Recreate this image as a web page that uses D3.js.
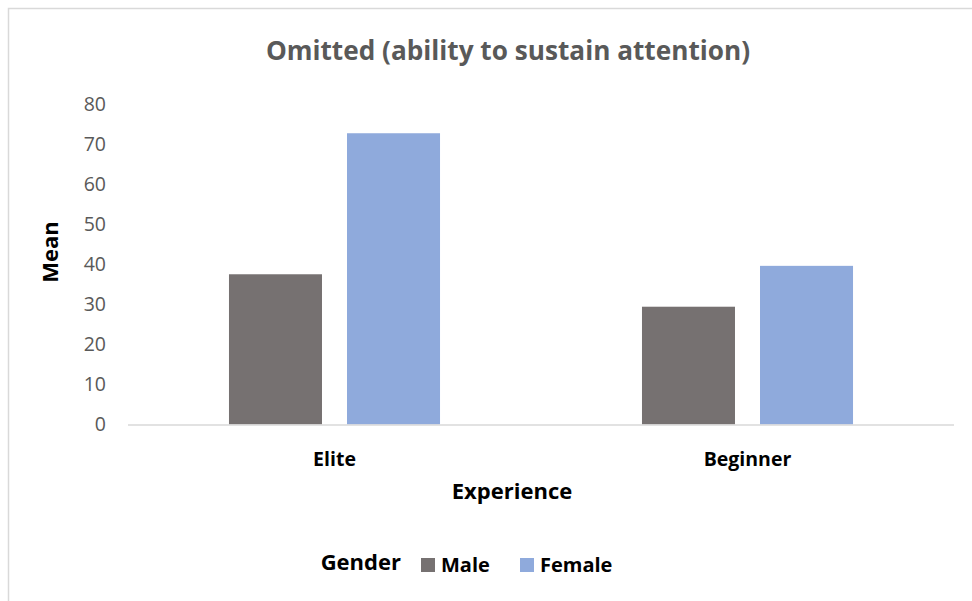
<!DOCTYPE html>
<html>
<head>
<meta charset="utf-8">
<script src="https://cdn.jsdelivr.net/npm/d3@7"></script>
<style>
  html, body { margin: 0; padding: 0; background: #fff; }
  svg { display: block; }
</style>
</head>
<body>
<svg id="chart" width="972" height="601"></svg>
<script>
const categories = ["Elite", "Beginner"];
const seriesNames = ["Male", "Female"];
const maleValues = [37.5, 29.4];
const femaleValues = [72.7, 39.6];
const yTicks = [0, 10, 20, 30, 40, 50, 60, 70, 80];
const colors = ["#767171", "#8faadc"];

const title = "Omitted (ability to sustain attention)";
const xTitle = "Experience";
const yTitle = "Mean";
const legendTitle = "Gender";

const svg = d3.select("#chart");
const W = 972, H = 601;
const plot = { left: 128, right: 954, top: 104, bottom: 424.5 };
const boldFont = "'Open Sans', sans-serif";

// chart frame
svg.append("path")
  .attr("d", `M8.5,${H} V8.5 H${W}`)
  .attr("fill", "none")
  .attr("stroke", "#d9d9d9")
  .attr("stroke-width", 1.5);

const x0 = d3.scaleBand().domain(categories)
  .range([plot.left, plot.right])
  .paddingInner(0.489).paddingOuter(0.2445);
const x1 = d3.scaleBand().domain(seriesNames)
  .range([0, x0.bandwidth()])
  .paddingInner(0.212).paddingOuter(0);
const y = d3.scaleLinear().domain([0, 80]).range([plot.bottom, plot.top]);

const rows = categories.map((c, i) => ({ cat: c, vals: [maleValues[i], femaleValues[i]] }));

const g = svg.append("g");
g.selectAll("g.cat").data(rows).join("g")
  .attr("class", "cat")
  .attr("transform", d => `translate(${x0(d.cat)},0)`)
  .selectAll("rect").data(d => d.vals.map((v, j) => ({ s: seriesNames[j], v, j })))
  .join("rect")
  .attr("x", d => x1(d.s))
  .attr("width", x1.bandwidth())
  .attr("y", d => y(d.v))
  .attr("height", d => y(0) - y(d.v))
  .attr("fill", d => colors[d.j]);

// y axis (labels only)
const yAxis = d3.axisLeft(y).tickValues(yTicks).tickSize(0).tickPadding(0);
const yg = svg.append("g").attr("transform", `translate(106,0)`).call(yAxis);
yg.select(".domain").remove();
yg.selectAll("text")
  .attr("fill", "#595959")
  .style("font-family", "'Open Sans', sans-serif")
  .style("font-size", "19.5px");

// x axis
const xAxis = d3.axisBottom(x0).tickSize(0).tickPadding(0);
const xg = svg.append("g").attr("transform", `translate(0,${plot.bottom})`).call(xAxis);
xg.select(".domain").remove();
xg.selectAll("text")
  .attr("y", 41)
  .attr("dy", 0)
  .attr("fill", "#000")
  .style("font-family", boldFont)
  .style("font-weight", "bold")
  .style("font-size", "19.5px");
svg.append("line")
  .attr("x1", plot.left).attr("x2", plot.right)
  .attr("y1", plot.bottom + 0.5).attr("y2", plot.bottom + 0.5)
  .attr("stroke", "#d9d9d9").attr("stroke-width", 1.5);

// titles
svg.append("text")
  .attr("x", 508).attr("y", 60)
  .attr("text-anchor", "middle")
  .attr("fill", "#595959")
  .style("font-family", boldFont)
  .style("font-weight", "bold")
  .style("font-size", "26.2px")
  .text(title);

svg.append("text")
  .attr("x", 512).attr("y", 499)
  .attr("text-anchor", "middle")
  .attr("fill", "#000")
  .style("font-family", boldFont)
  .style("font-weight", "bold")
  .style("font-size", "22px")
  .text(xTitle);

svg.append("text")
  .attr("transform", "translate(58,252) rotate(-90)")
  .attr("text-anchor", "middle")
  .attr("fill", "#000")
  .style("font-family", boldFont)
  .style("font-weight", "bold")
  .style("font-size", "22px")
  .text(yTitle);

// legend
const lg = svg.append("g");
lg.append("text")
  .attr("x", 401).attr("y", 570)
  .attr("text-anchor", "end")
  .attr("fill", "#000")
  .style("font-family", boldFont)
  .style("font-weight", "bold")
  .style("font-size", "22px")
  .text(legendTitle);
const legendX = [421, 520];
seriesNames.forEach((s, i) => {
  lg.append("rect")
    .attr("x", legendX[i]).attr("y", 558)
    .attr("width", 14).attr("height", 14)
    .attr("fill", colors[i]);
  lg.append("text")
    .attr("x", legendX[i] + 20).attr("y", 571.5)
    .attr("fill", "#000")
    .style("font-family", boldFont)
    .style("font-weight", "bold")
    .style("font-size", "20px")
    .text(s);
});
</script>
</body>
</html>
